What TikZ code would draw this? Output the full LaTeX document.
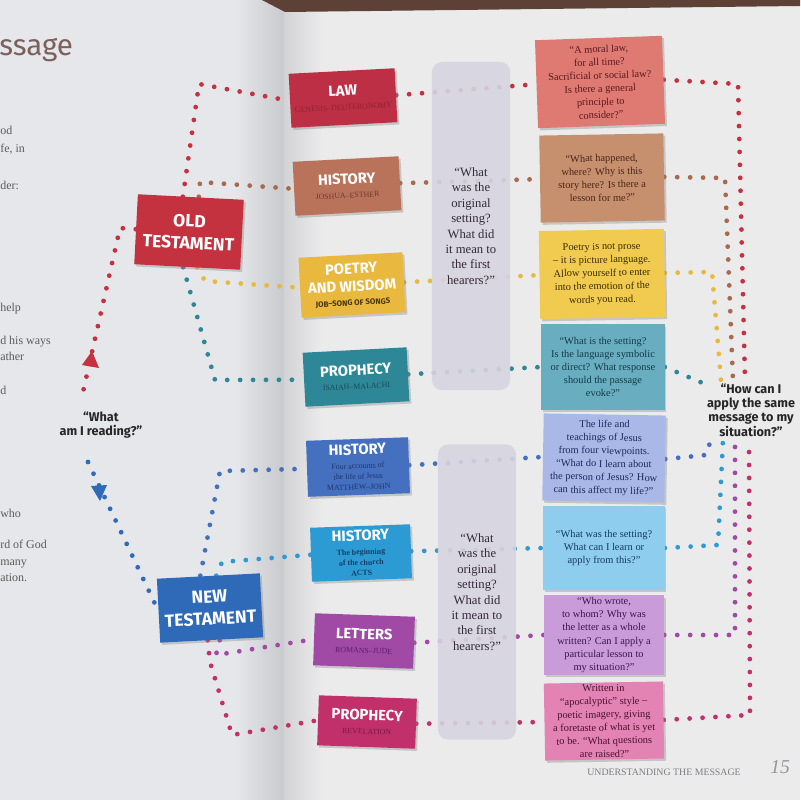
\documentclass[tikz,border=0pt]{standalone}
\usepackage{fontspec}
\setmainfont{Liberation Serif}
\newfontfamily\titlef{Fira Sans}
\usetikzlibrary{shadows,calc}
\pgfdeclarelayer{bg}
\pgfdeclarelayer{lines}
\pgfsetlayers{bg,lines,main}
\definecolor{leftpage}{HTML}{E6E7EA}
\definecolor{rightpage}{HTML}{EBEBEC}
\definecolor{spine}{HTML}{C9CACD}
\definecolor{spinetwo}{HTML}{D3D3D5}
\definecolor{tablec}{HTML}{5E4136}
\definecolor{fragcol}{HTML}{5C5C5E}
\definecolor{titlecol}{HTML}{7B605C}
\definecolor{otred}{HTML}{C4313F}
\definecolor{ntblue}{HTML}{2F6AB8}
\definecolor{law}{HTML}{BD2F45}
\definecolor{lawsub}{HTML}{8F2233}
\definecolor{hist}{HTML}{B9735B}
\definecolor{histsub}{HTML}{6E3A2A}
\definecolor{poetry}{HTML}{E9B83F}
\definecolor{poetrysub}{HTML}{4A3510}
\definecolor{proph}{HTML}{2E8797}
\definecolor{prophsub}{HTML}{174C58}
\definecolor{histnt}{HTML}{4470BF}
\definecolor{histntsub}{HTML}{1D3570}
\definecolor{acts}{HTML}{2C9BD3}
\definecolor{actssub}{HTML}{143D63}
\definecolor{letters}{HTML}{A04AA6}
\definecolor{letterssub}{HTML}{5C1F63}
\definecolor{rev}{HTML}{C2306B}
\definecolor{revsub}{HTML}{7A1A40}
\definecolor{rone}{HTML}{DE7A72}
\definecolor{ronet}{HTML}{5A1820}
\definecolor{rtwo}{HTML}{C68F6E}
\definecolor{rtwot}{HTML}{4A2618}
\definecolor{rthree}{HTML}{F1CB50}
\definecolor{rthreet}{HTML}{3A2A08}
\definecolor{rfour}{HTML}{68AEC0}
\definecolor{rfourt}{HTML}{143A48}
\definecolor{rfive}{HTML}{A9B8E6}
\definecolor{rfivet}{HTML}{1C2A60}
\definecolor{rsix}{HTML}{8FCDEE}
\definecolor{rsixt}{HTML}{143A60}
\definecolor{rseven}{HTML}{C99BD9}
\definecolor{rsevent}{HTML}{3C1450}
\definecolor{reight}{HTML}{E283B3}
\definecolor{reightt}{HTML}{4A1030}
\definecolor{colgray}{HTML}{D7D4DF}
\definecolor{coltext}{HTML}{33293A}
\definecolor{cbrown}{HTML}{A86A4E}
\definecolor{footc}{HTML}{7D7D80}
\newcommand\mysub{\fontsize{5.6}{7}\selectfont}
\newcommand\mytitle{\titlef\bfseries\fontsize{10.5}{11}\selectfont}
\begin{document}
\begin{tikzpicture}[x=0.025cm,y=-0.025cm,
  dotline/.style={line width=3.4pt,dash pattern=on 0pt off 9.2pt,line cap=round},
  shad/.style={drop shadow={opacity=0.35,shadow xshift=1.4pt,shadow yshift=-1.6pt}},
  midbox/.style={rectangle,inner sep=1pt,align=center,text=white,shad,font=\mysub},
  bigbox/.style={rectangle,inner sep=1pt,align=center,text=white,shad,font=\titlef\bfseries\fontsize{12.5}{13.5}\selectfont},
  rbox/.style={rectangle,inner sep=1pt,align=center,shad,font=\fontsize{7.4}{9.4}\selectfont},
  colbox/.style={rectangle,rounded corners=7pt,fill=colgray,fill opacity=0.9,text opacity=1,text=coltext,align=center,font=\fontsize{9}{11}\selectfont},
  qtext/.style={align=center,font=\titlef\bfseries\fontsize{9}{10.2}\selectfont,text=black!85},
  frag/.style={anchor=base west,inner sep=0,text=fragcol,font=\fontsize{8.5}{10}\selectfont}
]
\useasboundingbox (0,0) rectangle (800,800);
\begin{pgfonlayer}{bg}
  \fill[leftpage] (0,0) rectangle (800,800);
  \shade[left color=leftpage,right color=spine] (235,0) rectangle (284,800);
  \shade[left color=spinetwo,right color=rightpage] (284,0) rectangle (322,800);
  \fill[rightpage] (322,0) rectangle (800,800);
  \fill[tablec] (262,0) -- (800,0) -- (800,6) -- (285,12) -- cycle;
\end{pgfonlayer}

% left page fragments
\node[frag,text=titlecol,font=\titlef\fontsize{21}{24}\selectfont] (ttl) at (-1,56) {ssage};
\node[frag] (f1) at (0,135) {od};
\node[frag] (f2) at (0,153) {fe, in};
\node[frag] (f3) at (0,190) {der:};
\node[frag] (f4) at (0,311) {help};
\node[frag] (f5) at (0,344) {d his ways};
\node[frag] (f6) at (0,360) {ather};
\node[frag] (f7) at (0,394) {d};
\node[frag] (f8) at (0,517) {who};
\node[frag] (f9) at (0,548) {rd of God};
\node[frag] (f10) at (0,565) {many};
\node[frag] (f11) at (0,581) {ation.};

% testament boxes
\node[bigbox,fill=otred,rotate=-3,minimum width=2.65cm,minimum height=1.75cm] (ot) at (189,232) {OLD\\[2pt]TESTAMENT};
\node[bigbox,fill=ntblue,rotate=3,minimum width=2.575cm,minimum height=1.6cm] (nt) at (210,608) {NEW\\[2pt]TESTAMENT};

% questions
\node[qtext] (qa) at (101,425) {“What\\am I reading?”};
\node[qtext] (qb) at (751,410) {“How can I\\apply the same\\message to my\\situation?”};
\coordinate (redend) at (83,392);
\coordinate (blueend) at (88,462);

% middle boxes
\node[midbox,fill=law,rotate=3,minimum width=2.65cm,minimum height=1.35cm] (law) at (343,98)
  {{\mytitle LAW}\\[3pt]{\color{lawsub}GENESIS–DEUTERONOMY}};
\node[midbox,fill=hist,rotate=3,minimum width=2.65cm,minimum height=1.35cm] (hist) at (347,186)
  {{\mytitle HISTORY}\\[3pt]{\color{histsub}JOSHUA–ESTHER}};
\node[midbox,fill=poetry,rotate=3,minimum width=2.6cm,minimum height=1.5cm] (poetry) at (352,285)
  {{\mytitle POETRY}\\[4pt]{\mytitle AND WISDOM}\\[3pt]{\titlef\bfseries\color{poetrysub}JOB–SONG OF SONGS}};
\node[midbox,fill=proph,rotate=3,minimum width=2.6cm,minimum height=1.35cm] (proph) at (356,377)
  {{\mytitle PROPHECY}\\[3pt]{\color{prophsub}ISAIAH–MALACHI}};
\node[midbox,fill=histnt,rotate=2,minimum width=2.55cm,minimum height=1.4cm] (histnt) at (358,467)
  {{\mytitle HISTORY}\\[3pt]{\color{histntsub}Four accounts of}\\[0.5pt]{\color{histntsub}the life of Jesus}\\[0.5pt]{\color{histntsub}MATTHEW–JOHN}};
\node[midbox,fill=acts,rotate=2,minimum width=2.5cm,minimum height=1.35cm] (acts) at (361,553)
  {{\mytitle HISTORY}\\[3pt]{\color{actssub}\bfseries The beginning}\\[0.5pt]{\color{actssub}\bfseries of the church}\\[0.5pt]{\color{actssub}\bfseries ACTS}};
\node[midbox,fill=letters,rotate=-2,minimum width=2.5cm,minimum height=1.3cm] (letters) at (364,641)
  {{\mytitle LETTERS}\\[3pt]{\color{letterssub}ROMANS–JUDE}};
\node[midbox,fill=rev,rotate=-2,minimum width=2.45cm,minimum height=1.25cm] (rev) at (367,722)
  {{\mytitle PROPHECY}\\[3pt]{\color{revsub}REVELATION}};

% grey columns
\node[colbox,minimum width=1.95cm,minimum height=8.2cm] (cola) at (471,226)
  {“What\\was the\\original\\setting?\\What did\\it mean to\\the first\\hearers?”};
\node[colbox,minimum width=1.95cm,minimum height=7.375cm] (colb) at (477,592)
  {“What\\was the\\original\\setting?\\What did\\it mean to\\the first\\hearers?”};

% right boxes
\node[rbox,fill=rone,text=ronet,rotate=2,minimum width=3.175cm,minimum height=2.2cm] (r1) at (600,82)
  {“A moral law,\\for all time?\\Sacrificial or social law?\\Is there a general\\principle to\\consider?”};
\node[rbox,fill=rtwo,text=rtwot,rotate=1,minimum width=3.1cm,minimum height=2.175cm] (r2) at (602,178)
  {“What happened,\\where? Why is this\\story here? Is there a\\lesson for me?”};
\node[rbox,fill=rthree,text=rthreet,rotate=1,minimum width=3.125cm,minimum height=2.2cm] (r3) at (602,274)
  {Poetry is not prose\\– it is picture language.\\Allow yourself to enter\\into the emotion of the\\words you read.};
\node[rbox,fill=rfour,text=rfourt,minimum width=3.075cm,minimum height=2.125cm] (r4) at (603,367)
  {“What is the setting?\\Is the language symbolic\\or direct? What response\\should the passage\\evoke?”};
\node[rbox,fill=rfive,text=rfivet,rotate=-1,minimum width=3.05cm,minimum height=2.175cm] (r5) at (604,458)
  {The life and\\teachings of Jesus\\from four viewpoints.\\“What do I learn about\\the person of Jesus? How\\can this affect my life?”};
\node[rbox,fill=rsix,text=rsixt,minimum width=3.025cm,minimum height=2.1cm] (r6) at (604,548)
  {“What was the setting?\\What can I learn or\\apply from this?”};
\node[rbox,fill=rseven,text=rsevent,minimum width=3.0cm,minimum height=1.975cm] (r7) at (604,635)
  {“Who wrote,\\to whom? Why was\\the letter as a whole\\written? Can I apply a\\particular lesson to\\my situation?”};
\node[rbox,fill=reight,text=reightt,rotate=1,minimum width=2.975cm,minimum height=1.925cm] (r8) at (604,721)
  {Written in\\“apocalyptic” style –\\poetic imagery, giving\\a foretaste of what is yet\\to be. “What questions\\are raised?”};

% footer
\node[anchor=base west,inner sep=0,text=footc,font=\fontsize{7}{8}\selectfont] (foot) at (587,775) {UNDERSTANDING THE MESSAGE};
\node[anchor=base west,inner sep=0,text=footc!80,font=\itshape\fontsize{14}{16}\selectfont] (pg) at (770,773) {15};

% arrow heads
\fill[otred] (92,351) -- (99,368) -- (82,365) -- cycle;
\fill[ntblue] (100,501) -- (91,486) -- (107,485) -- cycle;

\begin{pgfonlayer}{lines}
  % OT and NT branches
  \draw[dotline,otred] ([xshift=-0.2cm]ot.north) -- (199,84) -- (law.west);
  \draw[dotline,cbrown] ([xshift=0.2cm]ot.north) -- (200,182) -- (hist.west);
  \draw[dotline,poetry] ([xshift=0.25cm]ot.south) -- (205,281) -- (poetry.west);
  \draw[dotline,proph] ([xshift=-0.1cm]ot.south) -- (188,284) -- (215,380) -- (proph.west);
  \draw[dotline,otred] (ot.west) -- (120,228) -- (redend);
  \draw[dotline,ntblue] (blueend) -- (nt.west);
  \draw[dotline,histnt] ([xshift=-0.2cm]nt.north) -- (220,471) -- (histnt.west);
  \draw[dotline,acts] ([xshift=0.2cm]nt.north) -- (222,562) -- (acts.west);
  \draw[dotline,letters] ([xshift=0.2cm]nt.south) -- (216,655) -- (letters.west);
  \draw[dotline,rev] ([xshift=-0.1cm]nt.south) -- (210,662) -- (232,735) -- (rev.west);
  % middle to right
  \draw[dotline,otred] (law.east) -- (r1.west);
  \draw[dotline,cbrown] (hist.east) -- (r2.west);
  \draw[dotline,poetry] (poetry.east) -- (r3.west);
  \draw[dotline,proph] (proph.east) -- (r4.west);
  \draw[dotline,histnt] (histnt.east) -- (r5.west);
  \draw[dotline,acts] (acts.east) -- (r6.west);
  \draw[dotline,letters] (letters.east) -- (r7.west);
  \draw[dotline,rev] (rev.east) -- (r8.west);
  % right to question
  \draw[dotline,otred] (r1.east) -- (738,84) -- ([xshift=-0.15cm,yshift=-0.05cm]qb.north);
  \draw[dotline,cbrown] (r2.east) -- (725,178) -- ([xshift=-0.45cm,yshift=-0.05cm]qb.north);
  \draw[dotline,poetry] (r3.east) -- (712,272) -- ([xshift=-0.75cm,yshift=-0.05cm]qb.north);
  \draw[dotline,proph] (r4.east) -- ([xshift=-1.0cm,yshift=-0.2cm]qb.north);
  \draw[dotline,histnt] (r5.east) -- (706,455) -- ([xshift=-1.0cm,yshift=0.05cm]qb.south);
  \draw[dotline,acts] (r6.east) -- (718,545) -- ([xshift=-0.7cm,yshift=0.05cm]qb.south);
  \draw[dotline,letters] (r7.east) -- (735,635) -- ([xshift=-0.4cm,yshift=0.05cm]qb.south);
  \draw[dotline,rev] (r8.east) -- (750,715) -- ([xshift=-0.05cm,yshift=0.05cm]qb.south);
\end{pgfonlayer}
\end{tikzpicture}
\end{document}
